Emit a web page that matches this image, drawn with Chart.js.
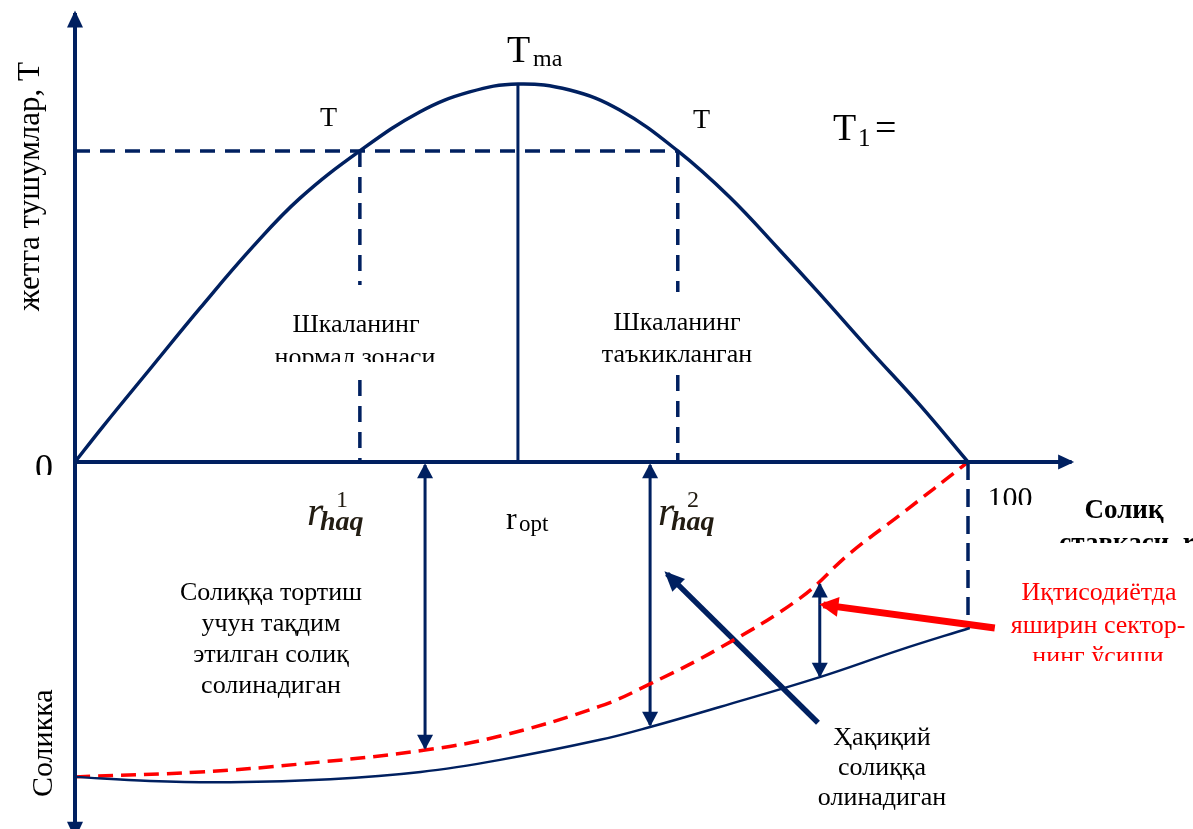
<!DOCTYPE html>
<html lang="uz">
<head>
<meta charset="utf-8">
<title>Laffer egri chizig'i</title>
<script src="https://cdn.jsdelivr.net/npm/chart.js"></script>
<style>
    body { margin: 0; background: #ffffff; }
    #wrap { width: 1193px; height: 829px; }
</style>
</head>
<body>
<div id="wrap"><canvas id="laffer" width="1193" height="829"></canvas></div>
<script>
// ===== Data (tax rate r in %, revenue T in % of Tmax) =====
const lafferRate    = [0, 3.1, 8.4, 14.0, 19.9, 25.2, 31.9, 38.6, 44.2, 49.6, 55.4, 61.0, 67.5, 73.3, 78.9, 83.2, 89.0, 94.6, 100];
const lafferRevenue = [0, 9.3, 24.6, 40.7, 56.9, 69.8, 82.3, 92.6, 97.9, 100, 98.4, 93.1, 82.3, 70.1, 56.1, 45.0, 29.6, 15.1, 0];

// proposed (declared) tax base - red dashed curve below the axis
const proposedRate = [0, 14.0, 25.2, 39.2, 47.6, 58.8, 64.4, 72.2, 81.2, 86.8, 92.4, 100];
const proposedTax  = [-83.3, -82.0, -79.9, -76.2, -72.5, -64.6, -58.7, -49.2, -36.0, -24.1, -14.0, 0];

// actually taxed base - solid blue curve below the axis
const actualRate = [0, 8.4, 17.4, 28.6, 38.7, 47.6, 58.8, 64.4, 72.2, 83.4, 92.4, 100.2];
const actualTax  = [-83.3, -84.4, -84.7, -83.9, -82.0, -78.8, -73.5, -70.1, -64.8, -56.9, -49.7, -43.9];

// key levels
const rateHaq1 = 31.9;
const rateOpt = 49.6;
const rateHaq2 = 67.5;
const rateMax = 100;
const levelT1 = 82.3;
const levelTmax = 100;

// dashed verticals are broken where the zone captions sit
const haq1Breaks = [46.8, 21.7];
const haq2Breaks = [45.0, 23.0];
const rateMaxDrop = -40.5;

// double arrows between the curves
const gapRates   = [39.2, 64.4, 83.4];
const gapTops    = [-0.8, -0.8, -32.3];
const gapBottoms = [-75.7, -69.6, -56.6];

// pointer arrows [tail, tip]
const actualPointerRate = [83.2, 66.3];
const actualPointerTax  = [-69.0, -29.6];
const hiddenPointerRate = [103.0, 83.8];
const hiddenPointerTax  = [-43.9, -37.8];

// axis extents
const axisRateEnd = 111.6;
const axisTaxEnds = [-99.0, 118.8];

// ===== Canvas mapping =====
const W = 1193, H = 829;
const PX_PER_RATE = 8.93, ORIGIN_X = 75;
const PX_PER_TAX = 3.78, ORIGIN_Y = 462;

const NAVY = '#002060';
const RED = '#ff0000';
const MATH = '#221c12';
const SERIF = '"Liberation Serif", "Times New Roman", serif';

function pts(xs, ys) {
    return xs.map((x, i) => ({ x: x, y: ys[i] }));
}

function vline(x, y0, y1) {
    return [{ x: x, y: y0 }, { x: x, y: y1 }];
}

function brokenVline(x, top, breaks) {
    return [
        { x: x, y: top }, { x: x, y: breaks[0] },
        { x: x, y: null },
        { x: x, y: breaks[1] }, { x: x, y: 0 }
    ];
}

function lineSet(data, color, width, extra) {
    return Object.assign({
        data: data,
        showLine: true,
        borderColor: color,
        backgroundColor: color,
        borderWidth: width,
        pointRadius: 0,
        fill: false,
        spanGaps: false
    }, extra || {});
}

const datasets = [
    // axes
    lineSet(vline(0, axisTaxEnds[0], axisTaxEnds[1]), NAVY, 4, { arrow: { start: true, end: true, len: 17, width: 16 } }),
    lineSet([{ x: 0, y: 0 }, { x: axisRateEnd, y: 0 }], NAVY, 4, { arrow: { end: true, len: 16, width: 15 } }),

    // Laffer curve
    lineSet(pts(lafferRate, lafferRevenue), NAVY, 3.5, { tension: 0.4 }),
    lineSet(vline(rateOpt, 0, levelTmax), NAVY, 3),

    // T1 level and dashed verticals
    lineSet([{ x: 0, y: levelT1 }, { x: rateHaq2, y: levelT1 }], NAVY, 3.5, { borderDash: [15, 10] }),
    lineSet(brokenVline(rateHaq1, levelT1, haq1Breaks), NAVY, 3.5, { borderDash: [16, 10] }),
    lineSet(brokenVline(rateHaq2, levelT1, haq2Breaks), NAVY, 3.5, { borderDash: [16, 10] }),
    lineSet(vline(rateMax, 0, rateMaxDrop), NAVY, 3.5, { borderDash: [18, 9] }),

    // lower curves
    lineSet(pts(actualRate, actualTax), NAVY, 2.5, { tension: 0.4 }),
    lineSet(pts(proposedRate, proposedTax), RED, 3.5, { borderDash: [15, 8], tension: 0.4 }),

    // pointer arrows
    lineSet(pts(actualPointerRate, actualPointerTax), NAVY, 5.5, { arrow: { end: true, len: 20, width: 18 } }),
    lineSet(pts(hiddenPointerRate, hiddenPointerTax), RED, 7, { arrow: { end: true, len: 19, width: 20 } })
];

gapRates.forEach((r, i) => {
    datasets.push(lineSet(vline(r, gapTops[i], gapBottoms[i]), NAVY, 3, { arrow: { start: true, end: true, len: 15, width: 16 } }));
});

// ===== Text labels (pixel positions) =====
const textLabels = [
    { t: 'T', x: 507, y: 62, f: '38px ' + SERIF },
    { t: 'ma', x: 533, y: 66, f: '24px ' + SERIF },
    { t: 'T', x: 320, y: 126, f: '28px ' + SERIF },
    { t: 'T', x: 693, y: 128, f: '28px ' + SERIF },
    { t: 'T', x: 833, y: 140, f: '38px ' + SERIF },
    { t: '1', x: 858, y: 146, f: '25px ' + SERIF },
    { t: '=', x: 875, y: 140, f: '38px ' + SERIF },
    { t: '0', x: 44, y: 479, f: '36px ' + SERIF, a: 'center', clip: 475 },
    { t: '100', x: 1010, y: 507, f: '30px ' + SERIF, a: 'center', clip: 505 },

    { t: 'r', x: 307, y: 525, f: 'italic 42px ' + SERIF, c: MATH },
    { t: '1', x: 336, y: 507, f: '24px ' + SERIF, c: MATH },
    { t: 'haq', x: 320, y: 530, f: 'italic bold 28px ' + SERIF, c: MATH },
    { t: 'r', x: 658, y: 525, f: 'italic 42px ' + SERIF, c: MATH },
    { t: '2', x: 687, y: 507, f: '24px ' + SERIF, c: MATH },
    { t: 'haq', x: 671, y: 530, f: 'italic bold 28px ' + SERIF, c: MATH },
    { t: 'r', x: 506, y: 529, f: '32px ' + SERIF },
    { t: 'opt', x: 519, y: 531, f: '23px ' + SERIF },

    { t: 'Шкаланинг', x: 356, y: 332, f: '26px ' + SERIF, a: 'center' },
    { t: 'нормал зонаси', x: 355, y: 365, f: '26px ' + SERIF, a: 'center', clip: 362 },
    { t: 'Шкаланинг', x: 677, y: 330, f: '26px ' + SERIF, a: 'center' },
    { t: 'таъқиқланган', x: 677, y: 362, f: '26px ' + SERIF, a: 'center', clip: 362 },

    { t: 'Солиққа тортиш', x: 271, y: 600, f: '26px ' + SERIF, a: 'center' },
    { t: 'учун тақдим', x: 271, y: 631, f: '26px ' + SERIF, a: 'center' },
    { t: 'этилган солиқ', x: 271, y: 662, f: '26px ' + SERIF, a: 'center' },
    { t: 'солинадиган', x: 271, y: 693, f: '26px ' + SERIF, a: 'center' },

    { t: 'Ҳақиқий', x: 882, y: 745, f: '26px ' + SERIF, a: 'center' },
    { t: 'солиққа', x: 882, y: 775, f: '26px ' + SERIF, a: 'center' },
    { t: 'олинадиган', x: 882, y: 805, f: '26px ' + SERIF, a: 'center' },

    { t: 'Иқтисодиётда', x: 1099, y: 600, f: '26px ' + SERIF, a: 'center', c: RED },
    { t: 'яширин сектор-', x: 1098, y: 633, f: '26px ' + SERIF, a: 'center', c: RED },
    { t: 'нинг ўсиши', x: 1098, y: 664, f: '26px ' + SERIF, a: 'center', c: RED, clip: 661 },

    { t: 'Солиқ', x: 1124, y: 518, f: 'bold 27px ' + SERIF, a: 'center' },
    { t: 'ставкаси, r', x: 1127, y: 551, f: 'bold 27px ' + SERIF, a: 'center', clip: 543 },

    { t: 'жетга тушумлар, Т', x: 39, y: 62, f: '31px ' + SERIF, a: 'right', rot: true },
    { t: 'Соликка', x: 52, y: 797, f: '30px ' + SERIF, a: 'left', rot: true }
];

// ===== Plugins =====
function drawHead(ctx, from, to, a, color, lw) {
    const ang = Math.atan2(to.y - from.y, to.x - from.x);
    const ext = (lw / 2) * a.len / (a.width / 2);
    ctx.save();
    ctx.translate(to.x + Math.cos(ang) * ext * 0.6, to.y + Math.sin(ang) * ext * 0.6);
    ctx.rotate(ang);
    ctx.beginPath();
    ctx.moveTo(0, 0);
    ctx.lineTo(-a.len, -a.width / 2);
    ctx.lineTo(-a.len, a.width / 2);
    ctx.closePath();
    ctx.fillStyle = color;
    ctx.fill();
    ctx.restore();
}

const arrowHeads = {
    id: 'arrowHeads',
    afterDatasetsDraw(chart) {
        const ctx = chart.ctx;
        chart.data.datasets.forEach((ds, i) => {
            if (!ds.arrow) return;
            const p = chart.getDatasetMeta(i).data;
            const n = p.length;
            if (ds.arrow.end) drawHead(ctx, p[n - 2], p[n - 1], ds.arrow, ds.borderColor, ds.borderWidth);
            if (ds.arrow.start) drawHead(ctx, p[1], p[0], ds.arrow, ds.borderColor, ds.borderWidth);
        });
    }
};

const captions = {
    id: 'captions',
    afterDraw(chart) {
        const ctx = chart.ctx;
        textLabels.forEach(l => {
            ctx.save();
            if (l.clip) {
                ctx.beginPath();
                ctx.rect(0, 0, W, l.clip);
                ctx.clip();
            }
            ctx.font = l.f;
            ctx.fillStyle = l.c || '#000000';
            ctx.textAlign = l.a || 'left';
            ctx.textBaseline = 'alphabetic';
            if (l.rot) {
                ctx.translate(l.x, l.y);
                ctx.rotate(-Math.PI / 2);
                ctx.fillText(l.t, 0, 0);
            } else {
                ctx.fillText(l.t, l.x, l.y);
            }
            ctx.restore();
        });
    }
};

// ===== Chart =====
const rateMin = -ORIGIN_X / PX_PER_RATE;
const taxMax = ORIGIN_Y / PX_PER_TAX;

new Chart(document.getElementById('laffer'), {
    type: 'scatter',
    data: { datasets: datasets },
    options: {
        responsive: false,
        devicePixelRatio: 1,
        animation: false,
        events: [],
        layout: { padding: 0 },
        plugins: {
            legend: { display: false },
            tooltip: { enabled: false }
        },
        scales: {
            x: { type: 'linear', display: false, min: rateMin, max: rateMin + W / PX_PER_RATE },
            y: { type: 'linear', display: false, min: taxMax - H / PX_PER_TAX, max: taxMax }
        }
    },
    plugins: [arrowHeads, captions]
});
</script>
</body>
</html>
